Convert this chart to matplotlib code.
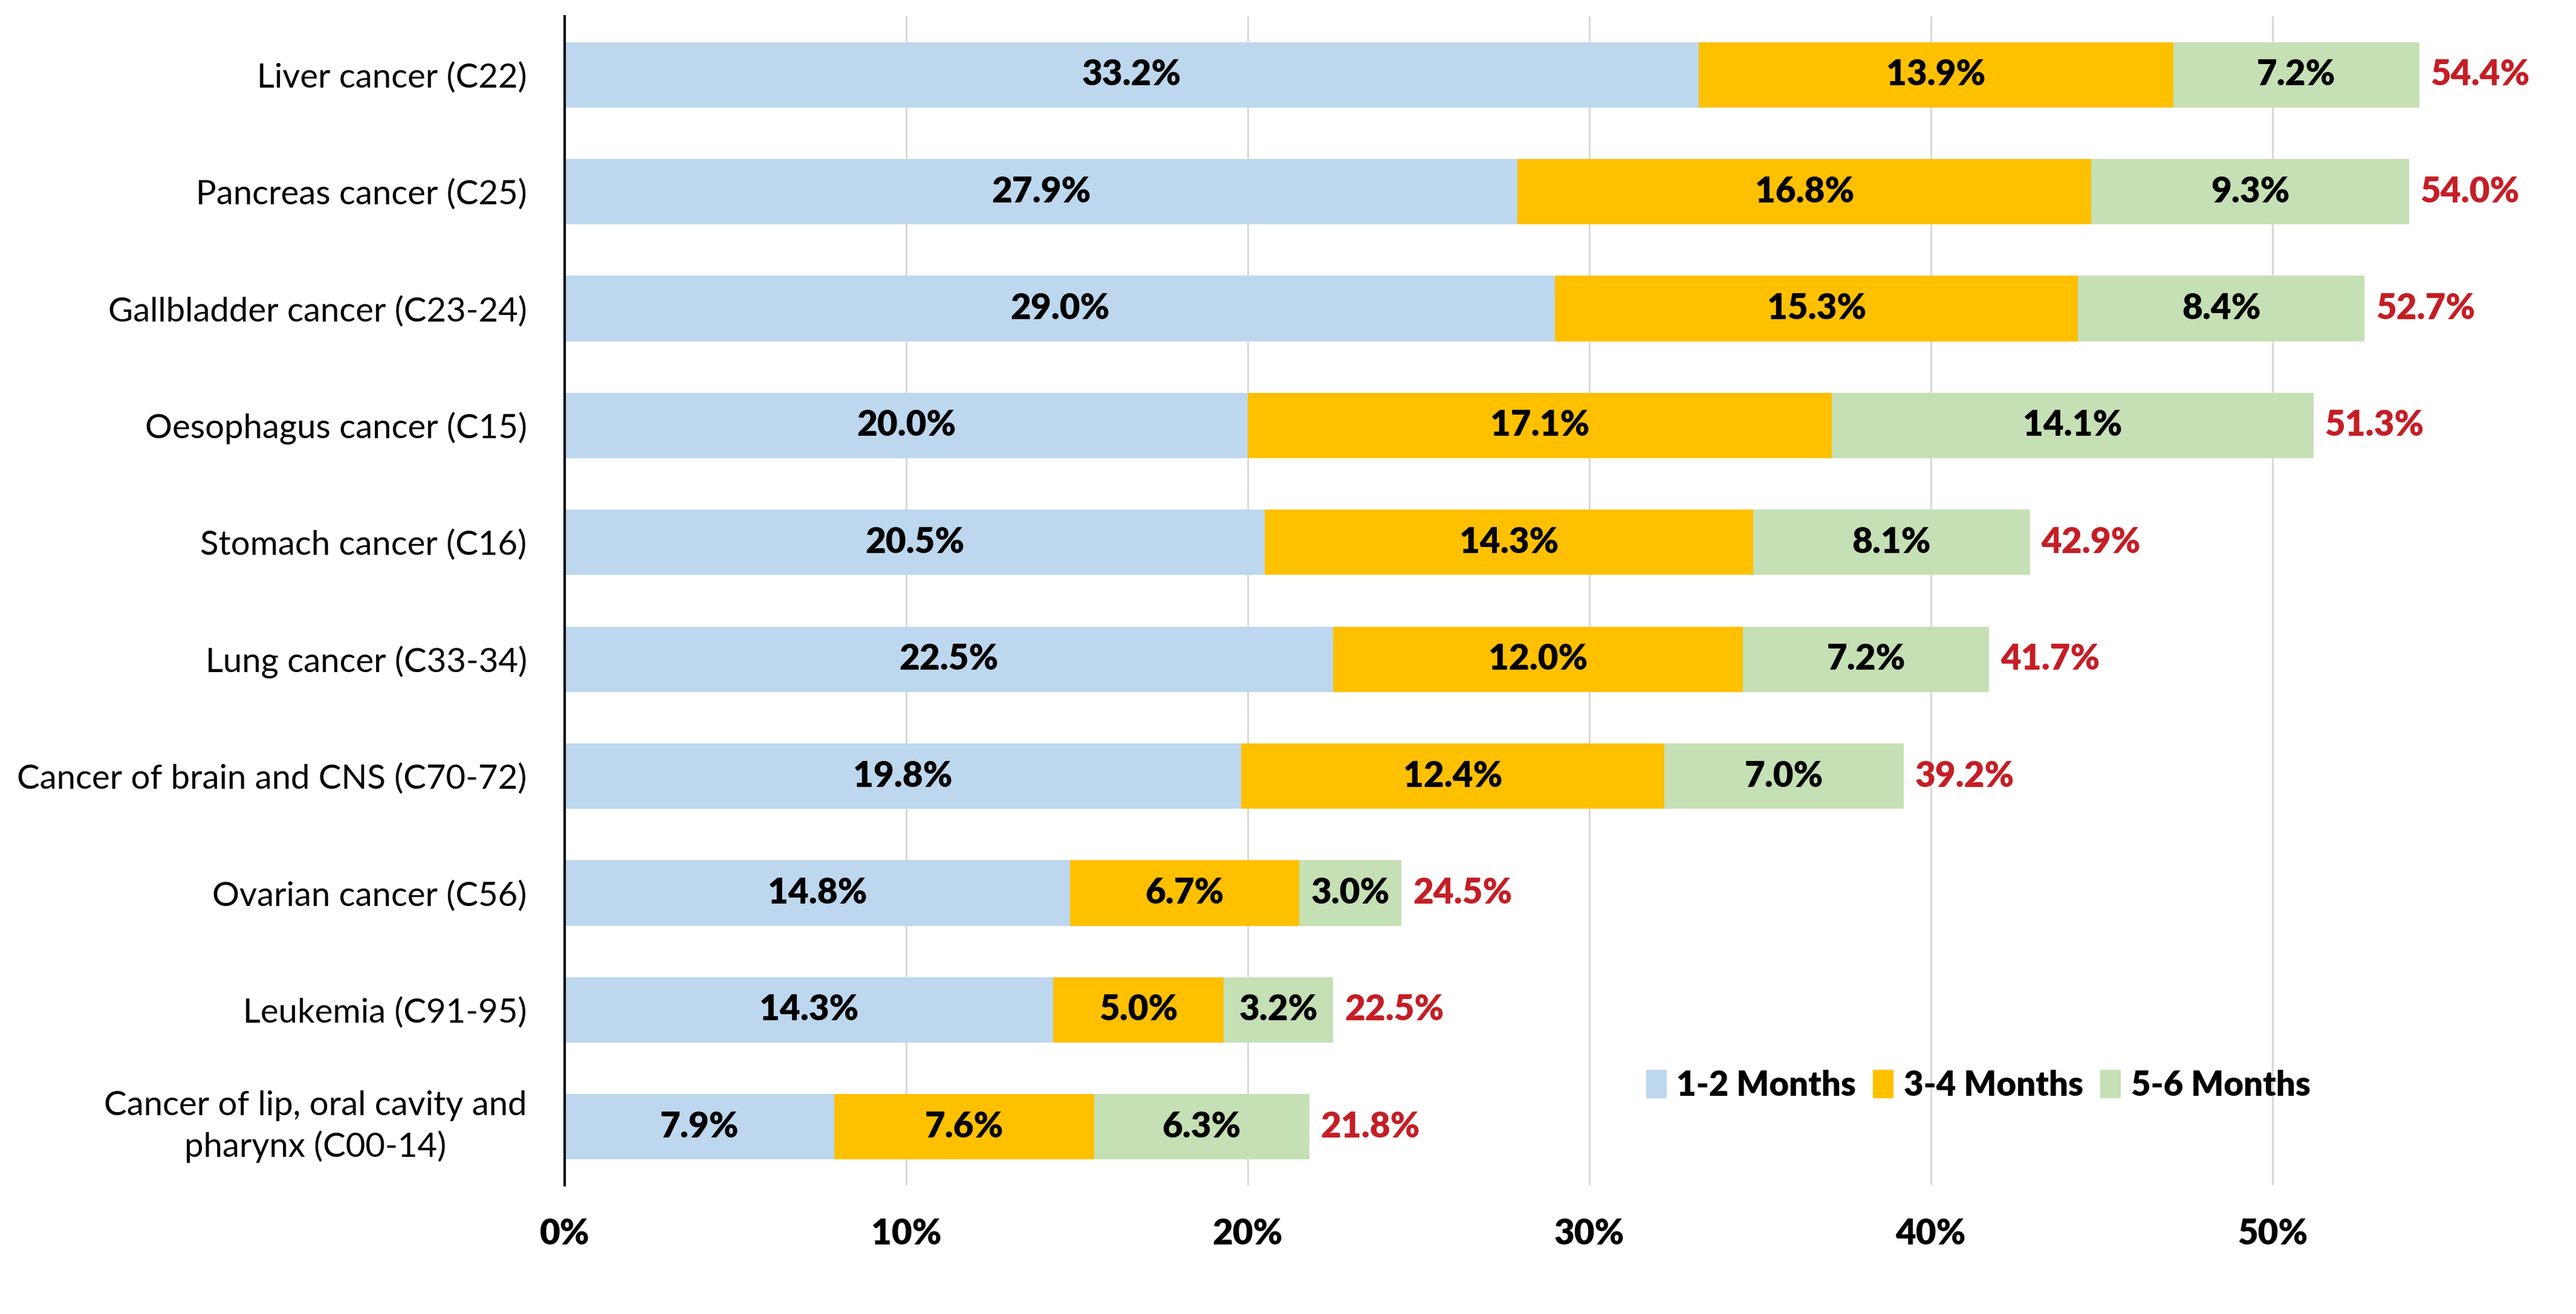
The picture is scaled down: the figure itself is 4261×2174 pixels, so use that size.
import matplotlib
matplotlib.use("Agg")
import matplotlib.pyplot as plt
import numpy as np
from matplotlib.patches import Rectangle

plt.rcParams["font.family"] = ["Lato", "DejaVu Sans"]

# =============================================================================
# data (top to bottom)

categories = [
    "Liver cancer (C22)",
    "Pancreas cancer (C25)",
    "Gallbladder cancer (C23-24)",
    "Oesophagus cancer (C15)",
    "Stomach cancer (C16)",
    "Lung cancer (C33-34)",
    "Cancer of brain and CNS (C70-72)",
    "Ovarian cancer (C56)",
    "Leukemia (C91-95)",
    "Cancer of lip, oral cavity and\npharynx (C00-14)",
]
months_1_2 = [33.2, 27.9, 29.0, 20.0, 20.5, 22.5, 19.8, 14.8, 14.3, 7.9]
months_3_4 = [13.9, 16.8, 15.3, 17.1, 14.3, 12.0, 12.4, 6.7, 5.0, 7.6]
months_5_6 = [7.2, 9.3, 8.4, 14.1, 8.1, 7.2, 7.0, 3.0, 3.2, 6.3]
totals = [54.4, 54.0, 52.7, 51.3, 42.9, 41.7, 39.2, 24.5, 22.5, 21.8]
series_labels = ["1-2 Months", "3-4 Months", "5-6 Months"]
x_ticks = [0, 10, 20, 30, 40, 50]

colors = ["#BDD7EE", "#FFC000", "#C5E0B4"]
total_color = "#C41E26"
BOLD = "heavy"

# =============================================================================

fig = plt.figure(figsize=(4261 / 300, 2174 / 300), dpi=300)
ax = fig.add_axes([0.2192, 0.098, 0.7465, 0.8896])

y = np.arange(len(categories))
series = [months_1_2, months_3_4, months_5_6]
left = np.zeros(len(categories))
for vals, col, lab in zip(series, colors, series_labels):
    vals = np.array(vals)
    bars = ax.barh(y, vals, left=left, height=0.56, color=col, label=lab, zorder=2)
    for b, v in zip(bars, vals):
        ax.text(
            b.get_x() + b.get_width() / 2,
            b.get_y() + b.get_height() / 2,
            f"{v:.1f}%",
            ha="center",
            va="center",
            fontsize=14,
            fontweight=BOLD,
            color="black",
            zorder=3,
        )
    left = left + vals

# totals at the end of each bar
for yi, end, tot in zip(y, left, totals):
    ax.annotate(
        f"{tot:.1f}%",
        xy=(end, yi),
        xytext=(4.5, 0),
        textcoords="offset points",
        ha="left",
        va="center",
        fontsize=14,
        fontweight=BOLD,
        color=total_color,
    )

ax.set_xlim(0, 56.3)
ax.set_ylim(len(categories) - 0.5, -0.5)
ax.set_xticks(x_ticks)
ax.set_xticklabels([f"{t}%" for t in x_ticks], fontsize=14, fontweight=BOLD)
ax.set_yticks(y)
ax.set_yticklabels(categories, fontsize=13.5)
for t in ax.get_yticklabels():
    t.set_multialignment("center")
    t.set_linespacing(1.35)
    if "\n" in t.get_text():
        t.set_va("center")
ax.tick_params(axis="x", length=0, pad=13)
ax.tick_params(axis="y", length=0, pad=15)

ax.grid(axis="x", color="#D9D9D9", linewidth=0.75, zorder=0)
ax.set_axisbelow(True)
for s in ["top", "right", "bottom"]:
    ax.spines[s].set_visible(False)
ax.spines["left"].set_color("black")
ax.spines["left"].set_linewidth(1.0)
ax.spines["left"].set_zorder(4)

handles = [Rectangle((0, 0), 1, 1, facecolor=c, edgecolor="none") for c in colors]
fig.legend(
    handles,
    series_labels,
    loc="center left",
    bbox_to_anchor=(0.639, 0.174),
    ncol=3,
    frameon=False,
    borderpad=0,
    borderaxespad=0,
    prop={"size": 13.5, "weight": BOLD},
    handlelength=0.6,
    handleheight=0.9,
    handletextpad=0.3,
    columnspacing=0.5,
)

fig.savefig("out.png", dpi=300)
plt.close(fig)
